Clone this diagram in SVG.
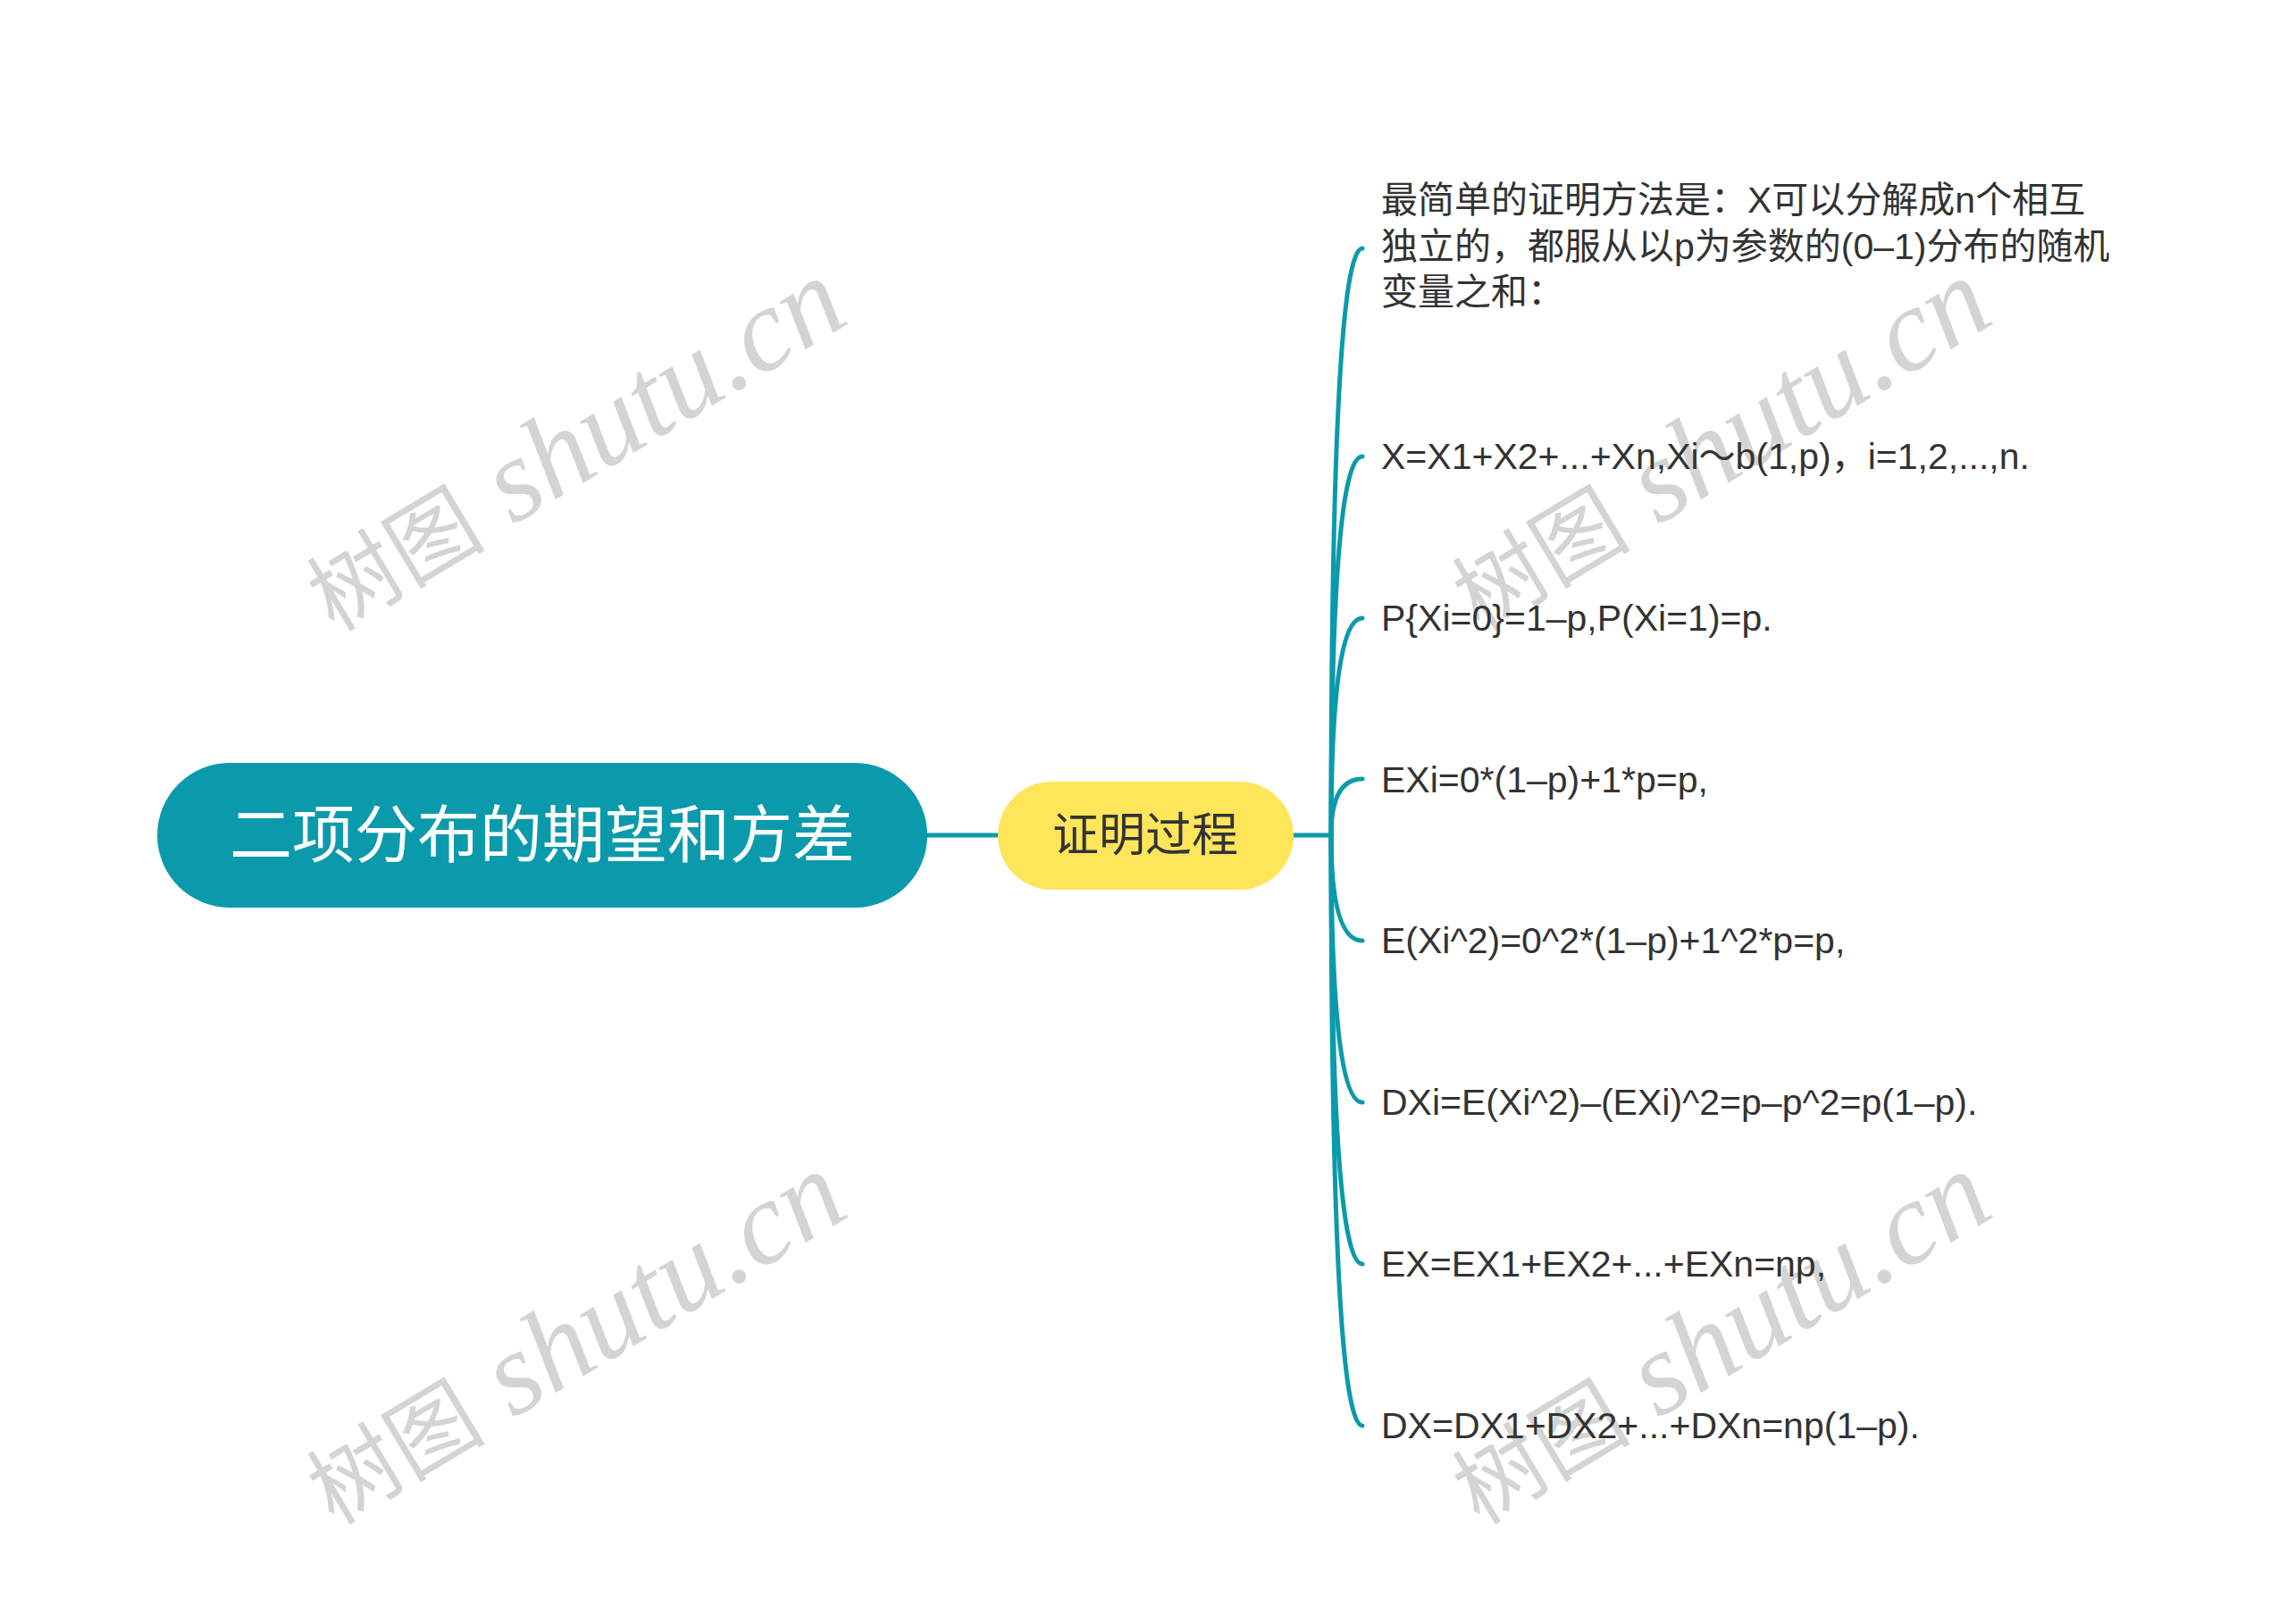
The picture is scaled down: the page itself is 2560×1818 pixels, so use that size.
<svg xmlns="http://www.w3.org/2000/svg" width="2560" height="1818" viewBox="0 0 2560 1818">
<style>
.wm{fill:#d4d4d4}
.wmc{font-family:"Noto Sans CJK SC",sans-serif;font-size:100px}
.wml{font-family:"Liberation Serif",serif;font-style:italic;font-size:132px}
.conn{fill:none;stroke:#0b9aab;stroke-width:5;stroke-linecap:round}
.leaf{font-family:"Liberation Sans","Noto Sans CJK SC",sans-serif;font-size:41px;fill:#333333}
</style>
<rect x="0" y="0" width="2560" height="1818" fill="#ffffff"/>
<g id="watermarks">
<text class="wm" transform="translate(664,534) rotate(-31)" text-anchor="middle"><tspan class="wmc">树图</tspan><tspan class="wml"> shutu.cn</tspan></text>
<text class="wm" transform="translate(1946,534) rotate(-31)" text-anchor="middle"><tspan class="wmc">树图</tspan><tspan class="wml"> shutu.cn</tspan></text>
<text class="wm" transform="translate(664,1534) rotate(-31)" text-anchor="middle"><tspan class="wmc">树图</tspan><tspan class="wml"> shutu.cn</tspan></text>
<text class="wm" transform="translate(1946,1534) rotate(-31)" text-anchor="middle"><tspan class="wmc">树图</tspan><tspan class="wml"> shutu.cn</tspan></text>
</g>
<g id="connectors">
<path class="conn" d="M1038,935 H1117"/>
<path class="conn" d="M1448,935 H1490"/>
<path class="conn" d="M1490,935 Q1490,278 1525,278"/>
<path class="conn" d="M1490,935 Q1490,511 1525,511"/>
<path class="conn" d="M1490,935 Q1490,692 1525,692"/>
<path class="conn" d="M1490,935 Q1490,872 1525,872"/>
<path class="conn" d="M1490,935 Q1490,1053 1525,1053"/>
<path class="conn" d="M1490,935 Q1490,1234 1525,1234"/>
<path class="conn" d="M1490,935 Q1490,1415 1525,1415"/>
<path class="conn" d="M1490,935 Q1490,1596 1525,1596"/>
</g>
<g id="root">
<rect x="176" y="854" width="862" height="162" rx="81" ry="81" fill="#0b9aab"/>
<text x="607" y="960" text-anchor="middle" font-family="Noto Sans CJK SC, sans-serif" font-size="70" fill="#ffffff">二项分布的期望和方差</text>
</g>
<g id="child">
<rect x="1117" y="875" width="331" height="121" rx="60.5" ry="60.5" fill="#fee55a"/>
<text x="1282" y="953" text-anchor="middle" font-family="Noto Sans CJK SC, sans-serif" font-size="52" fill="#333333">证明过程</text>
</g>
<g id="leaf1">
<text class="leaf" x="1546" y="238">最简单的证明方法是：X可以分解成n个相互</text>
<text class="leaf" x="1546" y="290">独立的，都服从以p为参数的(0–1)分布的随机</text>
<text class="leaf" x="1546" y="341">变量之和：</text>
</g>
<g id="leaf2"><text class="leaf" x="1546" y="525">X=X1+X2+...+Xn,Xi～b(1,p)，i=1,2,...,n.</text></g>
<g id="leaf3"><text class="leaf" x="1546" y="706">P{Xi=0}=1–p,P(Xi=1)=p.</text></g>
<g id="leaf4"><text class="leaf" x="1546" y="887">EXi=0*(1–p)+1*p=p,</text></g>
<g id="leaf5"><text class="leaf" x="1546" y="1067">E(Xi^2)=0^2*(1–p)+1^2*p=p,</text></g>
<g id="leaf6"><text class="leaf" x="1546" y="1248">DXi=E(Xi^2)–(EXi)^2=p–p^2=p(1–p).</text></g>
<g id="leaf7"><text class="leaf" x="1546" y="1429">EX=EX1+EX2+...+EXn=np,</text></g>
<g id="leaf8"><text class="leaf" x="1546" y="1610">DX=DX1+DX2+...+DXn=np(1–p).</text></g>
</svg>
